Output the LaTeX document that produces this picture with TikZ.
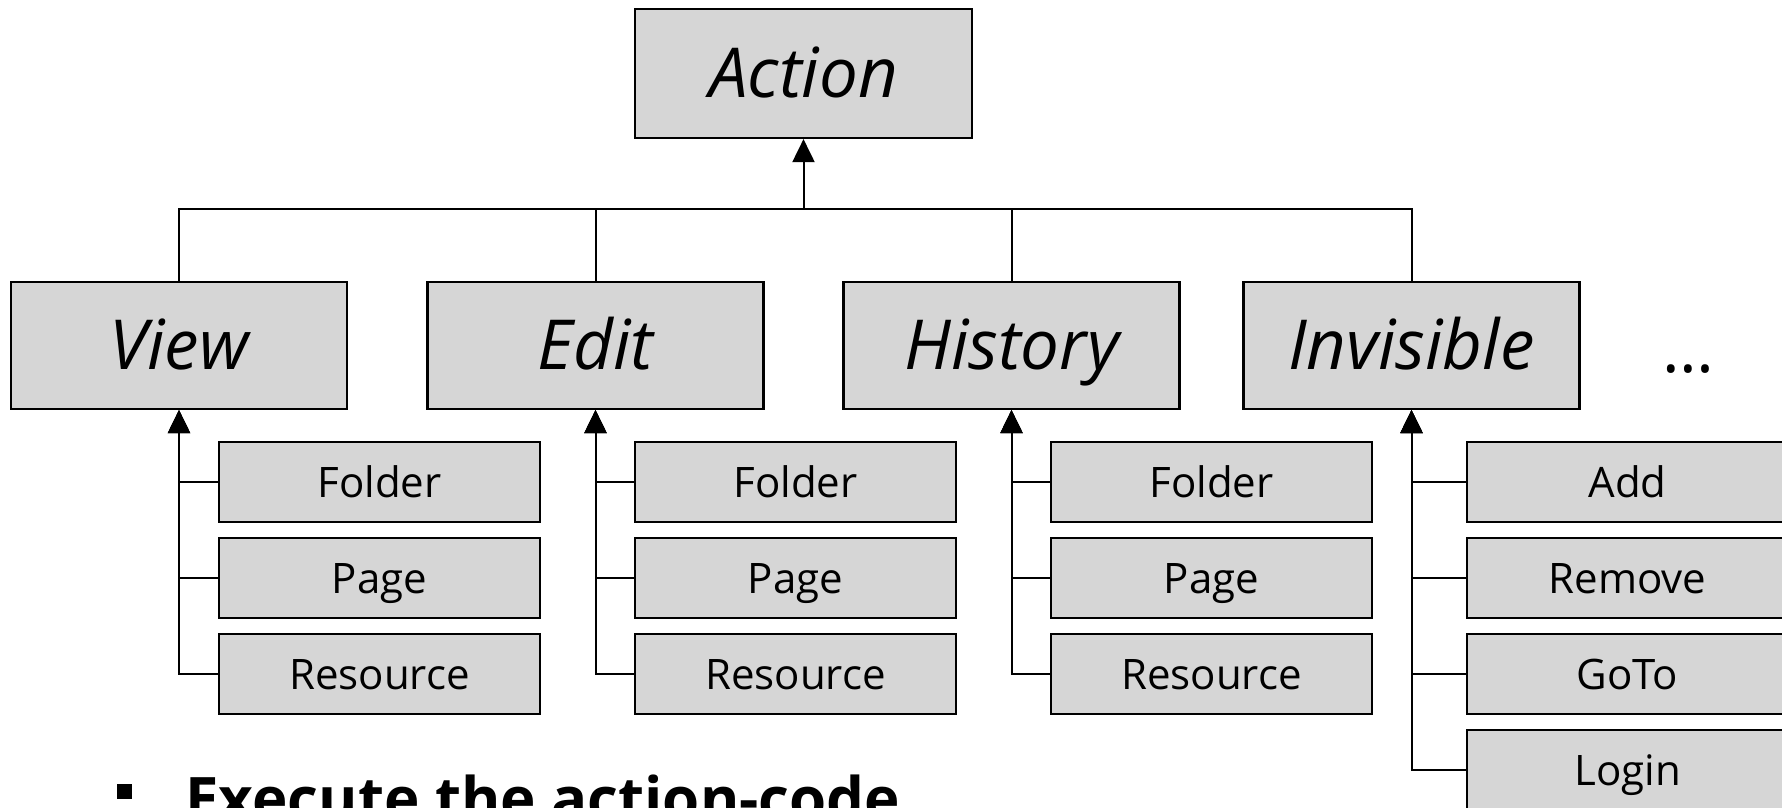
\documentclass[tikz,border=0pt]{standalone}
\usepackage{fontspec}
\setmainfont{Open Sans}
\usetikzlibrary{arrows.meta}

\definecolor{boxgray}{RGB}{214,214,214}

\tikzset{
  classbox/.style={draw, line width=2.2pt, fill=boxgray, inner sep=0pt,
    minimum width=336pt, minimum height=127pt,
    text height=48pt, text depth=0pt,
    font=\fontsize{69}{72}\selectfont\itshape},
  subbox/.style={draw, line width=2.2pt, fill=boxgray, inner sep=0pt,
    minimum width=321pt, minimum height=80pt,
    text height=30pt, text depth=0pt,
    font=\fontsize{42}{48}\selectfont},
  link/.style={line width=2pt},
  inherit/.style={link, -{Triangle[width=22pt,length=23pt]}}
}

\begin{document}
\begin{tikzpicture}[x=1pt,y=-1pt]
  \useasboundingbox (0,0) rectangle (1782,808);
  \clip (0,0) rectangle (1782,808);

  % base class
  \node[classbox, minimum width=337pt, minimum height=129pt] (action) at (803.5,73.5) {Action};
  \coordinate (bus) at (803.5,209);
  \draw[inherit] (bus) -- (action.south);

  % action kinds and their subclasses
  \foreach \name/\label/\x/\sx/\subs in {
      view/View/179/379.5/{Folder,Page,Resource},
      edit/Edit/595.5/795.5/{Folder,Page,Resource},
      history/History/1011.5/1211.5/{Folder,Page,Resource},
      invisible/Invisible/1411.5/1627.5/{Add,Remove,GoTo,Login}}
  {
    \node[classbox] (\name) at (\x,345.5) {\label};
    \draw[link] (\name.north) |- (bus);
    \foreach \s [count=\i] in \subs {
      \node[subbox] (\name-\i) at (\sx,386+96*\i) {\s};
      \draw[inherit] (\name-\i.west) -| (\name.south);
    }
  }
  \node[anchor=base, font=\fontsize{66}{70}\selectfont] (more) at (1688,372) {\dots};

  % bullet line, cut by the frame as in the slide
  \node[anchor=base west, inner sep=0pt, font=\fontsize{60}{70}\selectfont\bfseries] (step1)
    at (117,820) {\rule[21pt]{15pt}{15pt}\hspace{53pt}Execute the action-code};
\end{tikzpicture}
\end{document}
